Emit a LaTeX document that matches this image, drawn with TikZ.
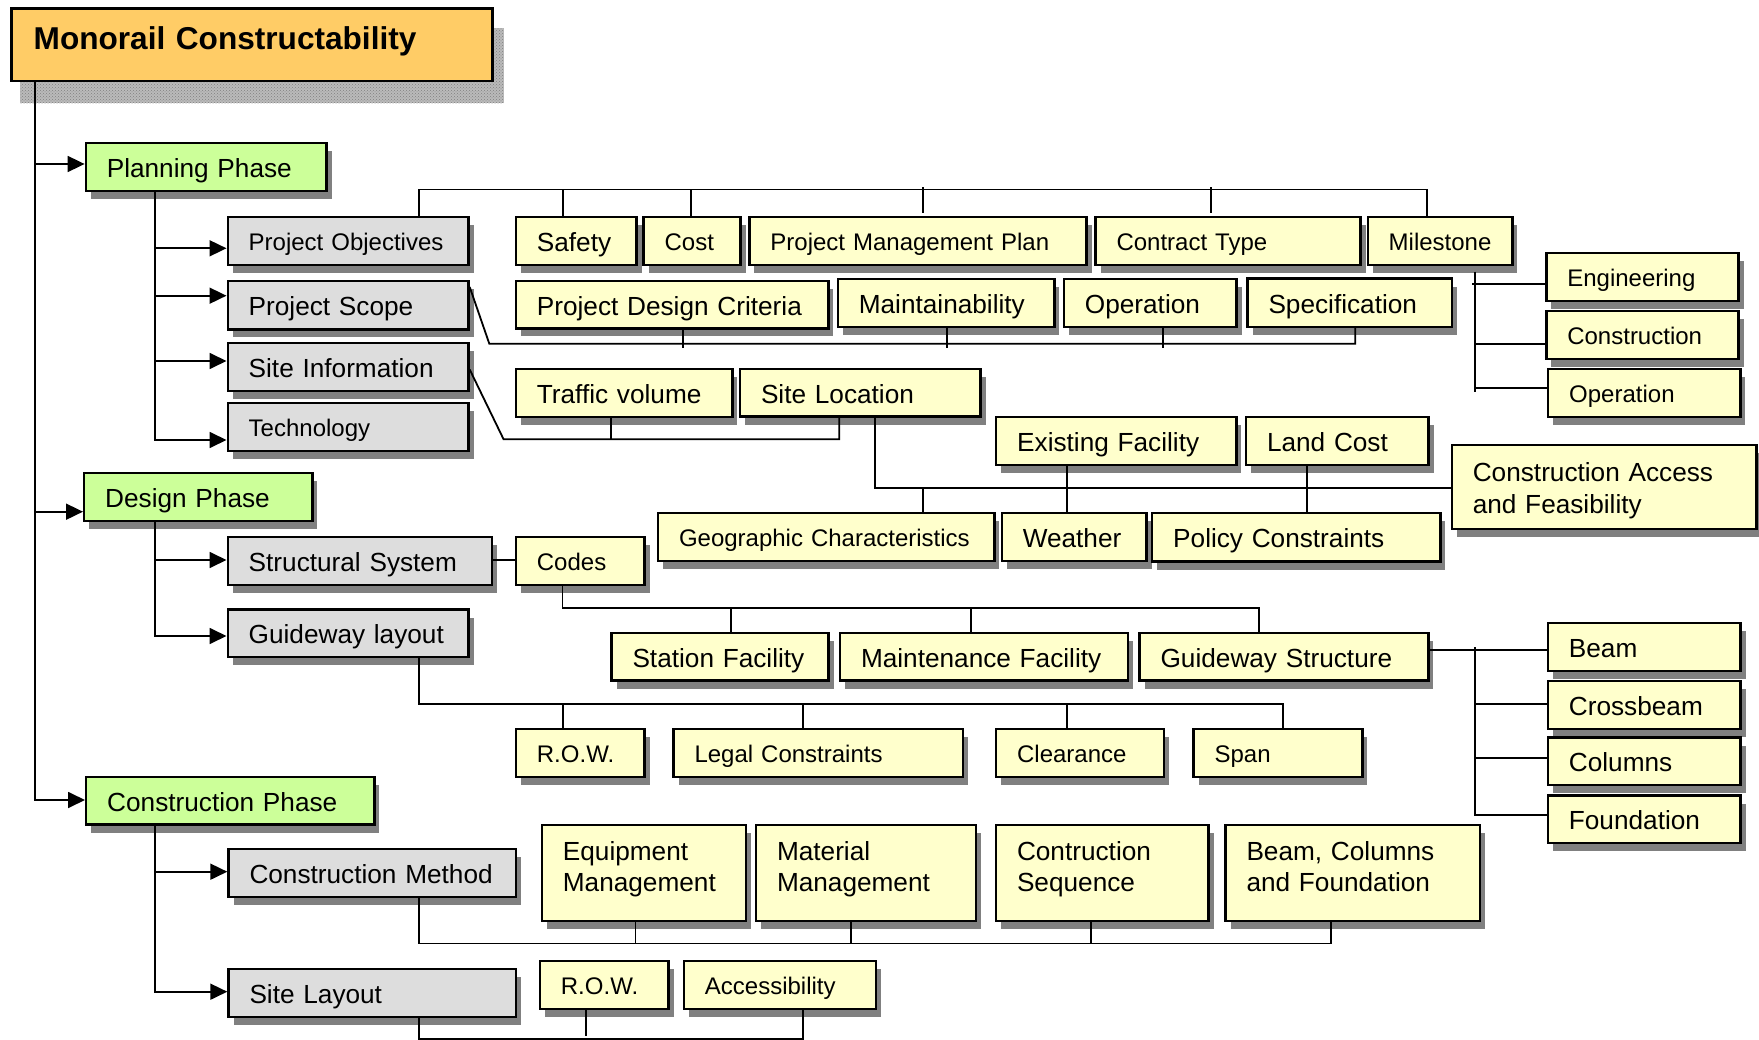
\documentclass[tikz,border=0pt]{standalone}
\usepackage{fontspec}
\setmainfont{Liberation Sans}
\usetikzlibrary{shadows,arrows.meta,patterns,backgrounds}

\definecolor{boxyellow}{HTML}{FFFFCC}
\definecolor{boxgreen}{HTML}{CCFF99}
\definecolor{boxgray}{HTML}{DDDDDD}
\definecolor{titleorange}{HTML}{FFCC66}

% box: style, name, left, top, width, height, text
\newcommand\bx[7]{%
  \pgfmathsetmacro\bxw{#5-42}%
  \node[#1, text width=\bxw pt, minimum height=#6pt] (#2) at (#3,#4) {#7};}

\tikzset{
  base/.style={draw=black, line width=2.4pt, inner xsep=21pt, inner ysep=0pt,
    anchor=north west, align=left,
    drop shadow={shadow xshift=5pt, shadow yshift=-8pt, fill=black!50, opacity=1}},
  yel/.style={base, fill=boxyellow},
  gry/.style={base, fill=boxgray},
  grn/.style={base, fill=boxgreen},
  big/.style={font=\fontsize{26.2}{31.4}\selectfont, text height=25pt, text depth=4pt},
  sml/.style={font=\fontsize{24}{28}\selectfont, text height=23pt, text depth=3.8pt},
  twomid/.style={font=\fontsize{26.2}{31.4}\selectfont, text height=26.6pt, text depth=37pt},
  twotop/.style={font=\fontsize{26.2}{31.4}\selectfont, text height=12pt, text depth=37pt},
  conn/.style={line width=1.8pt},
  arr/.style={conn, -{Triangle[length=17pt,width=16pt]}},
}

\begin{document}
\begin{tikzpicture}[x=1pt, y=-1pt]
\useasboundingbox (0,0) rectangle (1759,1040);

% title
\node[draw=black, line width=2.4pt, fill=titleorange, anchor=north west,
  minimum height=72.7pt, text width=436.6pt, inner xsep=22.2pt, inner ysep=0pt,
  align=left, font=\bfseries\fontsize{31.6}{36}\selectfont,
  text height=23pt, text depth=13pt] (title) at (10.3,7.3) {Monorail Constructability};
\begin{scope}[on background layer]
  \fill[black!27]
    ([shift={(10,21)}]title.north west) rectangle ([shift={(10,21)}]title.south east);
  \fill[pattern=crosshatch dots, pattern color=black!50]
    ([shift={(10,21)}]title.north west) rectangle ([shift={(10,21)}]title.south east);
\end{scope}

% phases
\bx{grn,big}{plan}{84.6}{141.7}{240.7}{48.3}{Planning Phase}
\bx{grn,big}{design}{83}{471.7}{228.2}{48.3}{Design Phase}
\bx{grn,big}{cons}{85}{775.7}{288.1}{47.6}{Construction Phase}

% second level
\bx{gry,sml}{obj}{226.5}{215.7}{240.8}{48.3}{Project Objectives}
\bx{gry,big}{scope}{226.5}{280}{240.8}{48.3}{Project Scope}
\bx{gry,big}{siteinfo}{226.5}{341.7}{240.8}{48.3}{Site Information}
\bx{gry,sml}{tech}{226.5}{401.7}{240.8}{48.3}{Technology}
\bx{gry,big}{struct}{226.5}{535.7}{264.5}{48.3}{Structural System}
\bx{gry,big}{glay}{226.5}{608.3}{240.8}{47.7}{Guideway layout}
\bx{gry,big}{cmeth}{227.3}{847.7}{287.6}{48}{Construction Method}
\bx{gry,big}{slay}{227.3}{967.7}{287.6}{48}{Site Layout}

% objectives
\bx{yel,big}{safety}{514.7}{215.7}{120.6}{48.3}{Safety}
\bx{yel,sml}{cost}{642.4}{215.7}{96.9}{48.3}{Cost}
\bx{yel,sml}{pmp}{748.2}{215.7}{337.1}{48.3}{Project Management Plan}
\bx{yel,sml}{ctype}{1094.3}{215.7}{265}{48.3}{Contract Type}
\bx{yel,sml}{mile}{1366.5}{215.7}{144.7}{48.3}{Milestone}
\bx{yel,sml}{eng}{1545.1}{251.7}{192.2}{48.3}{Engineering}
\bx{yel,sml}{consn}{1545.1}{310}{192.2}{48}{Construction}
\bx{yel,sml}{oper2}{1547}{368}{192.1}{48}{Operation}

% scope
\bx{yel,big}{pdc}{514.7}{280}{312.5}{47.3}{Project Design Criteria}
\bx{yel,big}{maint}{836.6}{277.7}{216.5}{48}{Maintainability}
\bx{yel,big}{oper}{1062.7}{277.7}{172.7}{48}{Operation}
\bx{yel,big}{spec}{1246.3}{277.5}{204.3}{48.2}{Specification}

% site information
\bx{yel,big}{traffic}{514.7}{368}{216.5}{48}{Traffic volume}
\bx{yel,big}{sloc}{738.8}{368}{240.6}{47.5}{Site Location}
\bx{yel,big}{exist}{995}{416}{240.2}{48}{Existing Facility}
\bx{yel,big}{land}{1244.8}{416}{182.5}{48}{Land Cost}
\bx{yel,twomid}{access}{1450.6}{444}{304.8}{83.7}{Construction Access\\and Feasibility}
\bx{yel,sml}{geo}{656.8}{511.7}{336.4}{48.3}{Geographic Characteristics}
\bx{yel,big}{weather}{1000.6}{512}{144.7}{48}{Weather}
\bx{yel,big}{policy}{1151}{512}{288.1}{48.3}{Policy Constraints}

% structural system
\bx{yel,sml}{codes}{514.7}{535.7}{128.6}{48.3}{Codes}
\bx{yel,big}{station}{610.3}{631.7}{217}{47.6}{Station Facility}
\bx{yel,big}{mfac}{838.8}{631.7}{288.1}{47.6}{Maintenance Facility}
\bx{yel,big}{gstr}{1138.4}{631.7}{288.8}{47.6}{Guideway Structure}
\bx{yel,big}{beam}{1546.7}{622}{192.6}{48}{Beam}
\bx{yel,big}{cbeam}{1546.7}{680}{192.6}{48}{Crossbeam}
\bx{yel,big}{cols}{1546.7}{736.3}{192.6}{47.7}{Columns}
\bx{yel,big}{found}{1546.7}{794.3}{192.6}{47.4}{Foundation}

% guideway layout
\bx{yel,sml}{row1}{514.7}{727.7}{128.6}{48}{R.O.W.}
\bx{yel,sml}{legal}{672.3}{727.7}{289.3}{48}{Legal Constraints}
\bx{yel,sml}{clear}{994.9}{727.7}{167.6}{48}{Clearance}
\bx{yel,sml}{span}{1192.4}{727.7}{168.7}{48}{Span}

% construction method
\bx{yel,twotop}{equip}{540.7}{823.7}{204.3}{96.3}{Equipment\\Management}
\bx{yel,twotop}{mat}{754.8}{823.7}{220.2}{96.3}{Material\\Management}
\bx{yel,twotop}{seq}{994.8}{823.7}{212.5}{96.3}{Contruction\\Sequence}
\bx{yel,twotop}{bcf}{1224.3}{823.7}{254.7}{96.3}{Beam, Columns\\and Foundation}

% site layout
\bx{yel,sml}{row2}{538.7}{960}{128.6}{47.7}{R.O.W.}
\bx{yel,sml}{accs}{682.7}{960}{192.3}{47.7}{Accessibility}

% ---- connectors ----
% root spine
\draw[arr] (34.8,0 |- title.south) |- (cons.west |- 0,800);
\draw[arr] (34.8,164) -- (plan.west |- 0,164);
\draw[arr] (34.8,511.7) -- (design.west |- 0,511.7);

% planning spine
\draw[arr] (155,0 |- plan.south) |- (tech.west |- 0,440);
\draw[arr] (155,248.3) -- (obj.west |- 0,248.3);
\draw[arr] (155,295.7) -- (scope.west |- 0,295.7);
\draw[arr] (155,361) -- (siteinfo.west |- 0,361);

% design spine
\draw[arr] (155,0 |- design.south) |- (glay.west |- 0,636);
\draw[arr] (155,560) -- (struct.west |- 0,560);

% construction spine
\draw[arr] (155,0 |- cons.south) |- (slay.west |- 0,991.7);
\draw[arr] (155,871.7) -- (cmeth.west |- 0,871.7);

% project objectives
\draw[conn] (419,0 |- obj.north) |- (1427.1,189.5) -- (1427.1,0 |- mile.north);
\foreach \xx/\nn in {563/safety, 691/cost}
  \draw[conn] (\xx,189.5) -- (\xx,0 |- \nn.north);
\foreach \xx/\nn in {922.8/pmp, 1211/ctype}
  \draw[conn] (\xx,187.3) -- ([yshift=3pt]\xx,0 |- \nn.north);

% milestone
\coordinate (mtop) at (1475,271.7);
\coordinate (mbot) at (1475,391.7);
\draw[conn] (mtop) -- (mbot);
\draw[conn] (1472,284) -- (eng.west |- 0,284);
\draw[conn] (1475,343.7) -- (consn.west |- 0,343.7);
\draw[conn] (1475,388.3) -- (oper2.west |- 0,388.3);

% project scope
\draw[conn] (scope.east |- 0,287) -- (489.3,343.7) -| (1355.2,0 |- spec.south);
\foreach \xx/\nn in {683/pdc, 946.8/maint, 1162.6/oper}
  \draw[conn] (\xx,0 |- \nn.south) -- (\xx,348.5);

% site information
\draw[conn] (siteinfo.east |- 0,369.5) -- (503.6,439.3) -| (839.3,0 |- sloc.south);
\draw[conn] (610.7,0 |- traffic.south) -- (610.7,439.3);
\draw[conn] (875,0 |- sloc.south) |- (access.west |- 0,487.7);
\draw[conn] (922.6,487.7) -- (922.6,0 |- geo.north);
\draw[conn] (1066.7,0 |- exist.south) -- (1066.7,0 |- weather.north);
\draw[conn] (1306.8,0 |- land.south) -- (1306.8,0 |- policy.north);

% structural system
\draw[conn] (struct.east |- 0,560) -- (codes.west |- 0,560);
\draw[conn] (562.5,0 |- codes.south) |- (1258.9,607.7) -- (1258.9,0 |- gstr.north);
\draw[conn] (730.9,607.7) -- (730.9,0 |- station.north);
\draw[conn] (970.8,607.7) -- (970.8,0 |- mfac.north);
\draw[conn] (gstr.east |- 0,650) -- (beam.west |- 0,650);
\draw[conn] (1475,647.3) |- (found.west |- 0,815);
\draw[conn] (1475,704) -- (cbeam.west |- 0,704);
\draw[conn] (1475,757.7) -- (cols.west |- 0,757.7);

% guideway layout
\draw[conn] (418.8,0 |- glay.south) |- (1283,703.7) -- (1283,0 |- span.north);
\foreach \xx/\nn in {563/row1, 802.6/legal, 1066.7/clear}
  \draw[conn] (\xx,703.7) -- (\xx,0 |- \nn.north);

% construction method
\draw[conn] (419,0 |- cmeth.south) |- (1331.1,943.5) -- (1331.1,0 |- bcf.south);
\foreach \xx/\nn in {635.4/equip, 851.2/mat, 1090.6/seq}
  \draw[conn] (\xx,943.5) -- (\xx,0 |- \nn.south);

% site layout
\draw[conn] (419,0 |- slay.south) |- (802.7,1039) -- (802.7,0 |- accs.south);
\draw[conn] (586,0 |- row2.south) -- (586,1036);
\end{tikzpicture}
\end{document}
